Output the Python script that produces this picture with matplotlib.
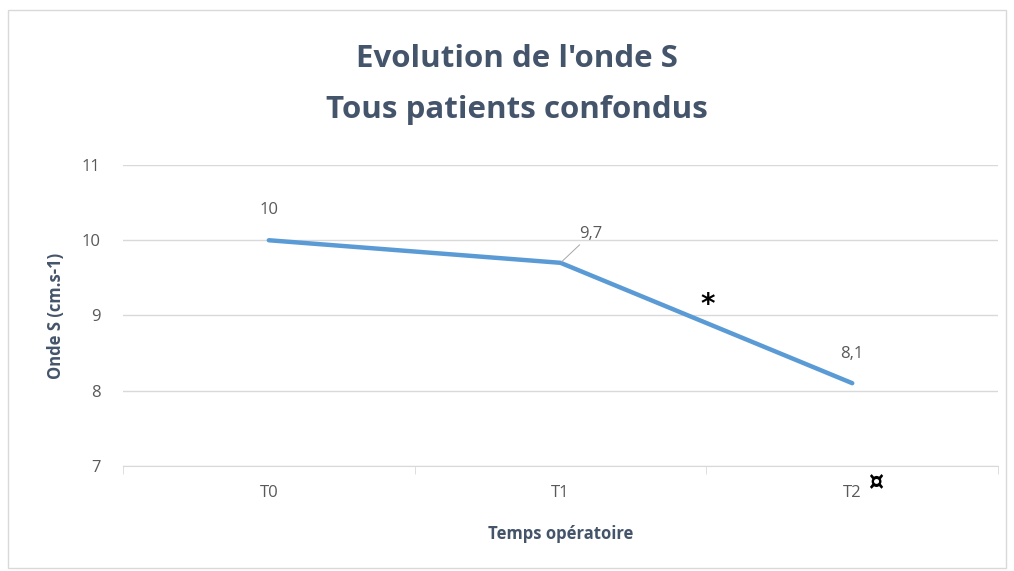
import matplotlib.pyplot as plt
from matplotlib.patches import Rectangle

# data
times = ['T0', 'T1', 'T2']
onde_s = [10.0, 9.7, 8.1]
value_labels = ['10', '9,7', '8,1']

title_col = '#44546A'
tick_col = '#595959'
grid_col = '#D9D9D9'
line_col = '#5B9BD5'

plt.rcParams['font.family'] = ['Open Sans', 'DejaVu Sans']

fig = plt.figure(figsize=(10.14, 5.71), dpi=100)
fig.patches.append(Rectangle((0.008, 0.005), 0.984, 0.978, transform=fig.transFigure,
                             fill=False, edgecolor='#D9D9D9', linewidth=1))
ax = fig.add_axes([0.1213, 0.184, 0.863, 0.527])

x = list(range(len(times)))
ax.plot(x, onde_s, color=line_col, linewidth=3.2, solid_capstyle='round', zorder=3)

ax.set_xlim(-0.5, len(times) - 0.5)
ax.set_ylim(7, 11)
ax.set_yticks([7, 8, 9, 10, 11])
ax.set_xticks(x)
ax.set_xticklabels(times)
ax.set_xticks([i - 0.5 for i in range(len(times) + 1)], minor=True)

ax.grid(axis='y', color=grid_col, linewidth=1)
ax.set_axisbelow(True)
for s in ['top', 'right', 'left']:
    ax.spines[s].set_visible(False)
ax.spines['bottom'].set_color(grid_col)
ax.tick_params(axis='y', length=0, colors=tick_col, labelsize=12, pad=16)
ax.tick_params(axis='x', which='major', length=0, colors=tick_col, labelsize=12, pad=14)
ax.tick_params(axis='x', which='minor', length=6, color=grid_col, direction='out')

# data labels
ax.annotate(value_labels[0], (x[0], onde_s[0]), xytext=(0, 16), textcoords='offset points',
            ha='center', va='bottom', color=tick_col, fontsize=12)
ax.annotate(value_labels[1], (x[1], onde_s[1]), xytext=(22, 15), textcoords='offset points',
            ha='center', va='bottom', color=tick_col, fontsize=12,
            arrowprops=dict(arrowstyle='-', color='#A6A6A6', linewidth=0.7, shrinkA=0, shrinkB=1))
ax.annotate(value_labels[2], (x[2], onde_s[2]), xytext=(0, 15), textcoords='offset points',
            ha='center', va='bottom', color=tick_col, fontsize=12)

# significance marks
ax.text(1.505, 9.14, '*', ha='center', va='center', fontsize=20, fontweight='bold',
        color='black', family='DejaVu Sans')
ax.text(2.08, 6.77, '¤', ha='center', va='center', fontsize=17, fontweight='bold',
        color='black', family='DejaVu Sans')

ax.set_xlabel('Temps opératoire', color=title_col, fontsize=12, fontweight='bold', labelpad=17)
ax.set_ylabel('Onde S (cm.s-1)', color=title_col, fontsize=12, fontweight='bold', labelpad=12)

fig.text(0.51, 0.897, "Evolution de l'onde S", ha='center', va='center',
         fontsize=22.5, fontweight='bold', color=title_col)
fig.text(0.51, 0.808, 'Tous patients confondus', ha='center', va='center',
         fontsize=22.5, fontweight='bold', color=title_col)

fig.savefig('out.png', dpi=100)
